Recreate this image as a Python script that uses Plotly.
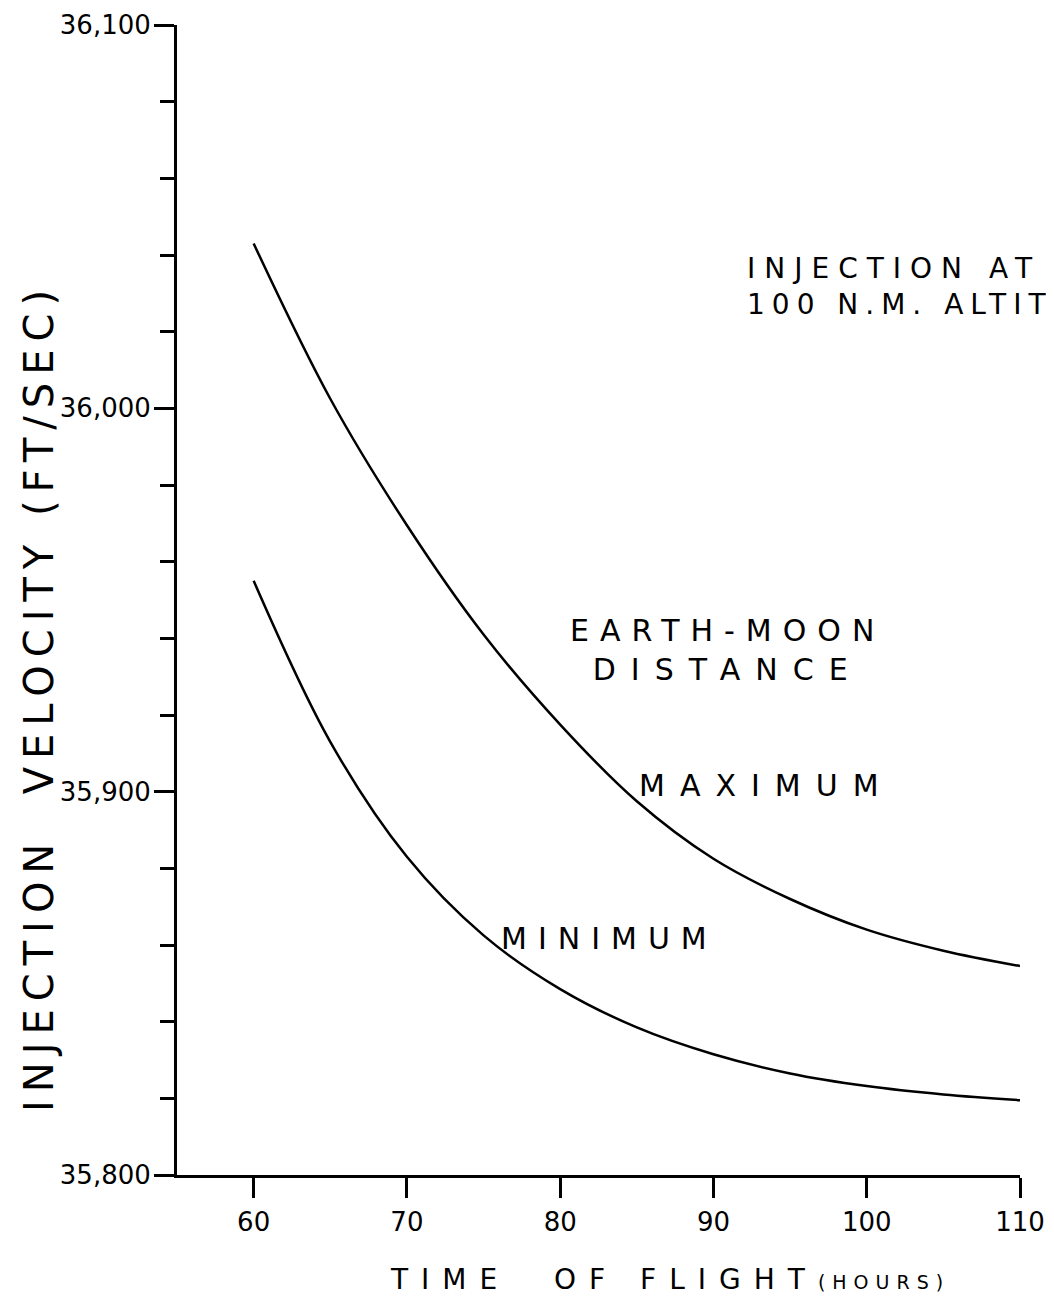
import plotly.graph_objects as go

# Data (time of flight in hours, injection velocity ft/sec)
max_t = [60, 65, 70, 75, 80, 85, 90, 95, 100, 105, 110]
max_v = [36043, 36002.5, 35969.5, 35941, 35917.5, 35897.5, 35882.5, 35872, 35864, 35858.5, 35854.5]

min_t = [60, 65, 70, 75, 80, 85, 90, 95, 100, 105, 110]
min_v = [35955, 35913, 35883, 35862.5, 35848.5, 35838.5, 35831.5, 35826.5, 35823.2, 35821, 35819.5]

x_ticks = [60, 70, 80, 90, 100, 110]
y_ticks = [35800, 35900, 36000, 36100]
y_ticktext = ["35,800", "35,900", "36,000", "36,100"]
y_minor = [35820, 35840, 35860, 35880, 35920, 35940, 35960, 35980,
           36020, 36040, 36060, 36080]

FONT = "DejaVu Sans"
INK = "black"

def spaced(txt, ls):
    return "<span style='letter-spacing:%dpx'>%s</span>" % (ls, txt)

fig = go.Figure()
fig.add_trace(go.Scatter(x=max_t, y=max_v, mode="lines",
                         line=dict(color=INK, width=2.5, shape="spline", smoothing=1.0),
                         name="Maximum", showlegend=False))
fig.add_trace(go.Scatter(x=min_t, y=min_v, mode="lines",
                         line=dict(color=INK, width=2.5, shape="spline", smoothing=1.0),
                         name="Minimum", showlegend=False))

annotations = [
    dict(x=92.06, y=36031.7, text=spaced("INJECTION AT", 9) + "<br>" + spaced("100 N.M. ALTIT", 7),
         xanchor="left", yanchor="middle", align="left", font=dict(size=28)),
    dict(x=90.9, y=35937, text=spaced("EARTH-MOON", 11) + "<br>" + spaced("DISTANCE", 15),
         xanchor="center", yanchor="middle", align="center", font=dict(size=30)),
    dict(x=85.0, y=35901.6, text=spaced("MAXIMUM", 15), xanchor="left", yanchor="middle", font=dict(size=30)),
    dict(x=76.0, y=35861.8, text=spaced("MINIMUM", 11), xanchor="left", yanchor="middle", font=dict(size=30)),
    dict(x=-0.1637, y=0.4156, xref="paper", yref="paper", textangle=-90,
         text=spaced("INJECTION  VELOCITY (FT/SEC)", 8), xanchor="center", yanchor="middle",
         font=dict(size=40)),
    dict(x=0.585, y=-0.0905, xref="paper", yref="paper",
         text=spaced("TIME  OF FLIGHT", 13) + "<span style='font-size:19px;letter-spacing:7px'>(HOURS)</span>",
         xanchor="center", yanchor="middle", font=dict(size=28)),
]
for a in annotations:
    a.setdefault("showarrow", False)
    a["font"].update(family=FONT, color=INK)

# page body has an 8px default margin, so the figure is sized to fit the window
fig.update_layout(
    width=1046, height=1291,
    margin=dict(l=169, r=34, t=17, b=124),
    paper_bgcolor="white", plot_bgcolor="white",
    font=dict(family=FONT, color=INK),
    annotations=annotations,
    xaxis=dict(range=[55, 110], tickvals=x_ticks, ticks="outside", ticklen=20, tickwidth=2.5,
               tickcolor=INK, showline=True, linecolor=INK, linewidth=3, showgrid=False,
               zeroline=False, tickfont=dict(size=26), ticklabelstandoff=2, automargin=False,
               ticklabeloverflow="allow"),
    yaxis=dict(range=[35800, 36100], tickvals=y_ticks, ticktext=y_ticktext, ticks="outside",
               ticklen=20, tickwidth=2.5, tickcolor=INK, showline=True, linecolor=INK, linewidth=3,
               showgrid=False, zeroline=False, tickfont=dict(size=26), ticklabelstandoff=-2,
               automargin=False, ticklabeloverflow="allow",
               minor=dict(tickvals=y_minor, ticks="outside", ticklen=14, tickwidth=2.5,
                          tickcolor=INK, showgrid=False)),
)

fig.write_html("out.html")
